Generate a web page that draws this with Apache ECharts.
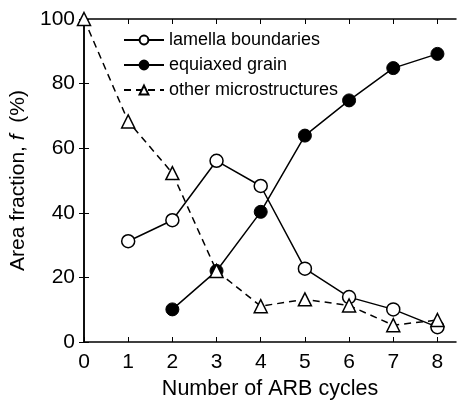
<!DOCTYPE html>
<html>
<head>
<meta charset="utf-8">
<script src="https://cdn.jsdelivr.net/npm/echarts@6/dist/echarts.min.js"></script>
<style>
  html, body { margin: 0; padding: 0; background: #fff; }
  #chart { width: 458px; height: 405px; }
</style>
</head>
<body>
<div id="chart"></div>
<script>
const cycles = [0, 1, 2, 3, 4, 5, 6, 7, 8];
const yTicks = [0, 20, 40, 60, 80, 100];
const lamella = [null, 31.2, 37.7, 56.1, 48.3, 22.7, 13.9, 10.1, 4.6];
const equiaxed = [null, null, 10.1, 22.0, 40.3, 63.9, 74.8, 84.8, 89.2];
const other = [100, 68.3, 52.3, 22.0, 11.1, 13.2, 11.3, 5.2, 6.8];

const toPairs = arr => cycles.map((c, i) => [c, arr[i]]).filter(p => p[1] !== null);

const chart = echarts.init(document.getElementById('chart'));
const font = 'Liberation Sans, Arial, sans-serif';

const baseX = {
  type: 'value', min: 0, max: 8.42,
  axisLine: { show: true, onZero: false, lineStyle: { color: '#000', width: 1.5 } },
  splitLine: { show: false },
  axisTick: { inside: true, length: 5, customValues: cycles, lineStyle: { color: '#000', width: 1 } }
};
const baseY = {
  type: 'value', min: 0, max: 100, interval: 20,
  axisLine: { show: true, lineStyle: { color: '#000', width: 1.5 } },
  splitLine: { show: false },
  axisTick: { inside: true, length: 5, lineStyle: { color: '#000', width: 1 } }
};

const option = {
  animation: false,
  grid: { left: 80, right: 2, top: 19, bottom: 62 },
  legend: {
    left: 118, top: 26, orient: 'vertical',
    itemWidth: 40, itemHeight: 11, itemGap: 7,
    textStyle: { fontFamily: font, fontSize: 18, color: '#000' },
    data: ['lamella boundaries', 'equiaxed grain', 'other microstructures']
  },
  xAxis: [
    Object.assign({}, baseX, {
      position: 'bottom',
      name: 'Number of ARB cycles', nameLocation: 'middle', nameGap: 36,
      nameTextStyle: { fontFamily: font, fontSize: 21.5, color: '#000' },
      axisLabel: { customValues: cycles, margin: 10, fontFamily: font, fontSize: 21, color: '#000' }
    }),
    Object.assign({}, baseX, { position: 'top', axisLabel: { show: false } })
  ],
  yAxis: [
    Object.assign({}, baseY, {
      position: 'left',
      name: '{n|Area fraction, }{i|f}{n|  (%)}', nameLocation: 'middle', nameGap: 55,
      nameTextStyle: {
        rich: {
          n: { fontFamily: font, fontSize: 21, color: '#000' },
          i: { fontFamily: font, fontSize: 21, color: '#000', fontStyle: 'italic' }
        }
      },
      axisLabel: { margin: 9, fontFamily: font, fontSize: 21, color: '#000' }
    }),
    Object.assign({}, baseY, { position: 'right', axisLabel: { show: false } })
  ],
  series: [
    {
      name: 'equiaxed grain', type: 'line', data: toPairs(equiaxed),
      symbol: 'circle', symbolSize: 13,
      lineStyle: { color: '#000', width: 1.5 },
      itemStyle: { color: '#000', borderColor: '#000', borderWidth: 1 },
      z: 2
    },
    {
      name: 'lamella boundaries', type: 'line', data: toPairs(lamella),
      symbol: 'circle', symbolSize: 13,
      lineStyle: { color: '#000', width: 1.5 },
      itemStyle: { color: '#fff', borderColor: '#000', borderWidth: 1.5 },
      z: 3
    },
    {
      name: 'other microstructures', type: 'line', data: toPairs(other),
      symbol: 'triangle', symbolSize: 13,
      lineStyle: { color: '#000', width: 1.5, type: [7, 5] },
      itemStyle: { color: '#fff', borderColor: '#000', borderWidth: 1.5 },
      z: 4
    }
  ]
};
chart.setOption(option);
</script>
</body>
</html>
